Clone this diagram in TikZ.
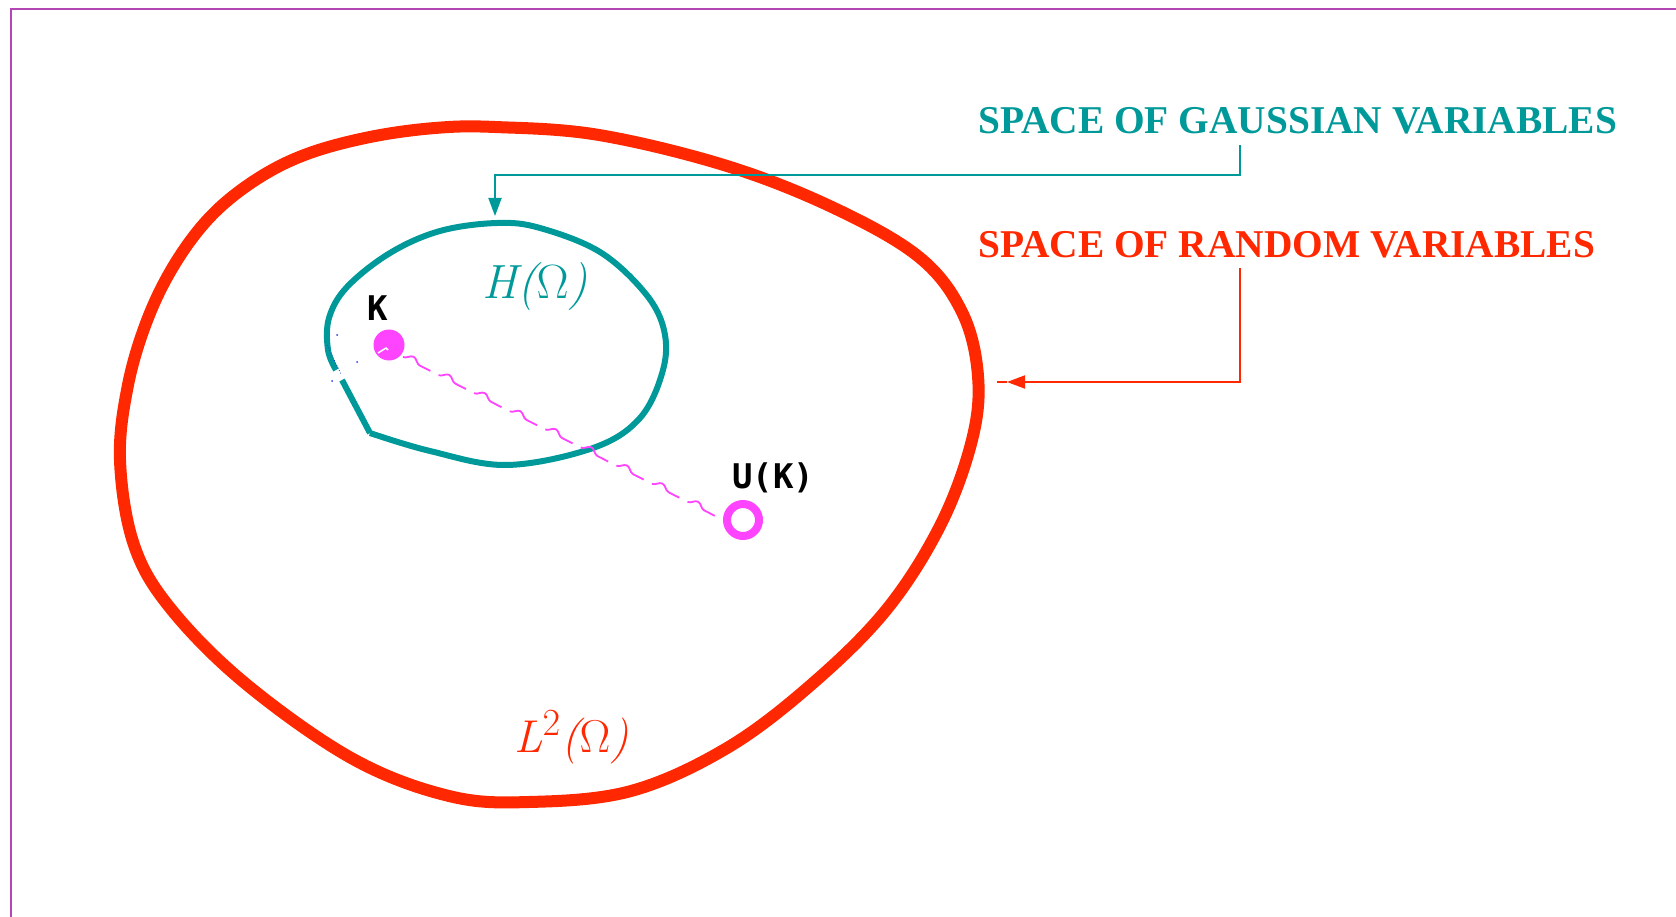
\documentclass[tikz,border=0pt]{standalone}
\usepackage{fontspec}
\newfontfamily\labelserif{Liberation Serif}
\newfontfamily\monof{DejaVu Sans Mono}
\usetikzlibrary{decorations.pathmorphing,arrows.meta,calc}
\definecolor{tealc}{RGB}{0,153,153}
\definecolor{redc}{RGB}{255,40,0}
\definecolor{magc}{RGB}{255,68,255}
\definecolor{framec}{RGB}{180,70,180}
\definecolor{bluec}{RGB}{40,60,230}
\tikzset{
  redline/.style={draw=redc,line width=2pt},
  tealline/.style={draw=tealc,line width=2pt},
  spacelabel/.style={font=\labelserif\bfseries\fontsize{39.4}{42}\selectfont,inner sep=0pt,anchor=base west},
  sanslabel/.style={font=\monof\bfseries\fontsize{34}{36}\selectfont,inner sep=0pt,text=black},
  mathlabel/.style={inner sep=0pt,anchor=base west,font=\Huge},
  tipstyle/.style={-{Triangle[length=18pt,width=13pt]}},
  wavestyle/.style={magc,line width=1.8pt,decorate,decoration={snake,amplitude=5pt,segment length=30pt}}
}
\begin{document}
\begin{tikzpicture}[x=1pt,y=-1pt]
\useasboundingbox (0,0) rectangle (1676,917);
% frame
\draw[framec,line width=2.5pt] (11,917) -- (11,9) -- (1676,9);
% outer red blob L2
\draw[redc,line width=12pt] plot[smooth cycle,tension=0.6] coordinates {
 (495,127) (599,135) (727,166) (834,208) (919,257) (962,312) (978,376)
 (972,440) (941,524) (887,609) (812,684) (727,748) (631,791) (529,802)
 (449,796) (353,759) (246,684) (171,609) (134,545) (120,460) (128,385)
 (148,318) (176,262) (212,215) (257,179) (307,154) (370,137) (435,128)};
% inner teal shape H
\draw[tealc,line width=6pt,line join=round] (342,380) -- (370,433)
  plot[smooth,tension=0.6] coordinates {(370,433) (430,451) (507,465) (593,448) (640,418)
  (663,370) (664,330) (645,293) (600,252) (540,228) (497,223) (440,231)
  (390,253) (347,287) (329,318) (328,350) (336,370)};
% specks near gap
\draw[bluec,line width=0.8pt,dotted] (327,345) -- (341,374);
\fill[bluec] (337,335) circle (1pt) (357,362) circle (1pt) (332,381) circle (1pt);
% points
\fill[magc] (389,345) circle (15.5pt);
\node[circle,inner sep=0pt,minimum size=1pt] (K) at (389,345) {};
\draw[white,line width=1.5pt] (378,353) -- (386,348) -- (388,350);
\node[circle,draw=magc,line width=8pt,minimum size=32pt,inner sep=0pt] (UK) at (743,520) {};
% wavy link K -> U(K)
\coordinate (ws) at ($(K)+(14,12)$);
\coordinate (we) at (UK.west);
\foreach \i in {0,...,8}{
  \draw[wavestyle] ($(ws)!{\i/9}!(we)$) -- ($(ws)!{(\i+0.77)/9}!(we)$);
}
% labels
\node[sanslabel] (Klab) at (378,308) {K};
\node[sanslabel] (UKlab) at (773,478) {U(K)};
\node[mathlabel,text=tealc,scale=1.93] (Hlab) at (482,298) {\itshape H($\Omega$\itshape)};
\node[mathlabel,text=redc,scale=1.85] (Llab) at (514,752) {\itshape L$^{2}$($\Omega$)};
\node[spacelabel,text=tealc] (gauss) at (978,134) {SPACE OF GAUSSIAN VARIABLES};
\node[spacelabel,text=redc] (random) at (978,258) {SPACE OF RANDOM VARIABLES};
% connectors
\coordinate (gbend) at (1240,175);
\coordinate (gtip) at (495,216);
\draw[tealline,tipstyle] ($(gauss.south -| gbend)+(0,10)$) -- (gbend) -| (gtip);
\coordinate (rbend) at (1240,382);
\coordinate (rtip) at (1007,382);
\coordinate (rstub) at (997,382);
\draw[redline] (rtip) -- (rstub);
\draw[redline,tipstyle] ($(random.south -| rbend)+(0,9)$) -- (rbend) -- (rtip);
\end{tikzpicture}
\end{document}
